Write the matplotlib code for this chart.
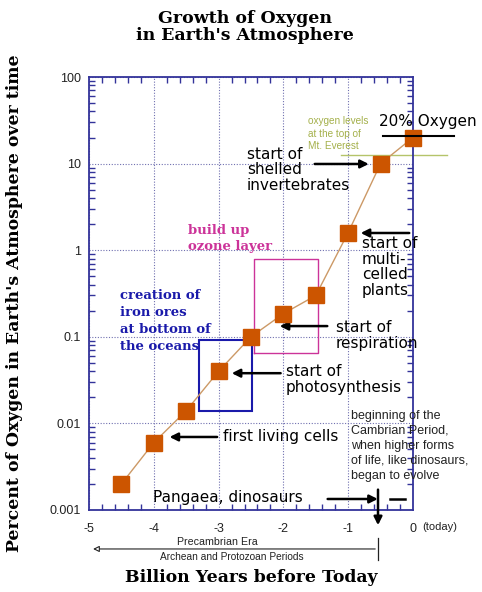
import numpy as np
import matplotlib
matplotlib.use("Agg")
import matplotlib.pyplot as plt
from matplotlib.ticker import FixedLocator, NullFormatter, LogLocator

# data: billion years before today vs percent oxygen
years = [-4.5, -4.0, -3.5, -3.0, -2.5, -2.0, -1.5, -1.0, -0.5, 0.0]
oxygen = [0.002, 0.006, 0.014, 0.04, 0.1, 0.185, 0.3, 1.6, 10, 20]

x_ticks = [-5, -4, -3, -2, -1, 0]
x_tick_labels = ["-5", "-4", "-3", "-2", "-1", "0"]
y_ticks = [0.001, 0.01, 0.1, 1, 10, 100]
y_tick_labels = ["0.001", "0.01", "0.1", "1", "10", "100"]

everest_level = 12.6
cambrian = -0.54

SERIF = "DejaVu Serif"
SANS = "DejaVu Sans"
NAVY = "#33339a"

fig = plt.figure(figsize=(4.82, 5.92), dpi=100)
ax = fig.add_axes([89 / 482, 1 - 510 / 592, 324 / 482, 433 / 592])
ax.set_yscale("log")
ax.set_xlim(-5, 0)
ax.set_ylim(0.001, 100)

# grid and axes styling
ax.set_xticks(x_ticks)
ax.set_xticklabels(x_tick_labels)
ax.set_yticks(y_ticks)
ax.set_yticklabels(y_tick_labels)
ax.xaxis.set_minor_locator(FixedLocator(np.arange(-5, 0.01, 0.2)))
ax.yaxis.set_minor_locator(LogLocator(base=10, subs=range(2, 10)))
ax.yaxis.set_minor_formatter(NullFormatter())
ax.grid(True, which="major", linestyle=(0, (1, 1.5)), color="#7070b0", linewidth=0.8)
ax.tick_params(which="both", direction="in", top=True, right=True, color=NAVY,
               labelsize=9, labelcolor="#222222")
ax.tick_params(which="major", length=0, width=1)
ax.tick_params(which="minor", length=4, width=1)
ax.tick_params(axis="x", pad=9)
ax.tick_params(axis="y", pad=6)
for s in ax.spines.values():
    s.set_color(NAVY)
    s.set_linewidth(1.3)
for lab in ax.get_xticklabels() + ax.get_yticklabels():
    lab.set_family("Liberation Sans")

# series
ax.plot(years, oxygen, color="#cc9966", linewidth=1, zorder=3)
ax.plot(years, oxygen, linestyle="none", marker="s", markersize=11.5,
        markerfacecolor="#cc5500", markeredgecolor="#cc5500", zorder=4, clip_on=False)

# boxes
ax.add_patch(plt.Rectangle((-3.31, 0.014), 0.83, 0.092 - 0.014, fill=False,
                           edgecolor="#1a1aaa", linewidth=1.5, zorder=2))
ax.plot([-2.46, -1.46, -1.46, -2.46, -2.46], [0.065, 0.065, 0.8, 0.8, 0.065],
        color="#cc3399", linewidth=1, zorder=2)

# Everest and 20% lines
ax.plot([-1.11, 0.52], [everest_level, everest_level], color="#b5c46a",
        linewidth=1, clip_on=False, zorder=2)
ax.plot([-0.46, 0.64], [21, 21], color="black", linewidth=1.5, clip_on=False, zorder=5)

txt = dict(family=SANS, fontsize=11, va="top", ha="left", linespacing=1.05, color="black")
ax.text(-2.56, 15.6, "start of\nshelled\ninvertebrates", **txt)
ax.text(-0.79, 1.46, "start of\nmulti-\ncelled\nplants", **txt)
ax.text(-1.19, 0.156, "start of\nrespiration", **txt)
ax.text(-1.96, 0.0485, "start of\nphotosynthesis", **txt)
ax.text(-2.93, 0.00697, "first living cells", family=SANS, fontsize=11, va="center")
ax.text(-4.02, 0.00141, "Pangaea, dinosaurs", family=SANS, fontsize=11, va="center")
ax.text(-0.52, 31, "20% Oxygen", family=SANS, fontsize=11, va="center", clip_on=False)
ax.text(-1.62, 35, "oxygen levels\nat the top of\nMt. Everest", family="Liberation Sans",
        fontsize=7.2, va="top", color="#a4b04a", linespacing=1.3)
ax.text(-0.96, 0.0143, "beginning of the\nCambrian Period,\nwhen higher forms\nof life, like dinosaurs,\nbegan to evolve",
        family="Liberation Sans", fontsize=9, va="top", linespacing=1.33, color="#222222",
        clip_on=False)
ax.text(-3.47, 2.0, "build up\nozone layer", family=SERIF, fontweight="bold", fontsize=9.5,
        va="top", color="#cc3399", linespacing=1.33)
ax.text(-4.52, 0.36, "creation of\niron ores\nat bottom of\nthe oceans", family=SERIF,
        fontweight="bold", fontsize=9.5, va="top", color="#1a1aaa", linespacing=1.4)

# arrows
arrow = dict(arrowstyle="-|>", color="black", lw=1.8, mutation_scale=12)
arrows = [
    ((-1.56, 9.9), (-0.64, 9.9)),
    ((-0.015, 1.58), (-0.85, 1.58)),
    ((-1.28, 0.133), (-2.1, 0.133)),
    ((-2.0, 0.038), (-2.84, 0.038)),
    ((-2.98, 0.00697), (-3.8, 0.00697)),
    ((-1.36, 0.00134), (-0.5, 0.00134)),
]
for start, end in arrows:
    ax.annotate("", xy=end, xytext=start, arrowprops=arrow, annotation_clip=False)
ax.plot([-0.36, -0.12], [0.00134, 0.00134], color="black", linewidth=1.8, zorder=5)
ax.annotate("", xy=(cambrian, 0.00062), xytext=(cambrian, 0.00185), arrowprops=arrow,
            annotation_clip=False)

# precambrian span below the axis
tr = ax.get_xaxis_transform()
ax.annotate("", xy=(-4.98, -0.090), xytext=(cambrian, -0.090), xycoords=tr, textcoords=tr,
            arrowprops=dict(arrowstyle="-|>", color="#222222", lw=0.8, fc="white",
                            mutation_scale=9), annotation_clip=False)
ax.plot([cambrian, cambrian], [-0.065, -0.116], transform=tr, color="#222222",
        linewidth=0.9, clip_on=False)
ax.text(-3.02, -0.074, "Precambrian Era", transform=tr, family="Liberation Sans",
        fontsize=7.7, ha="center", va="center", color="#222222")
ax.text(-2.79, -0.1085, "Archean and Protozoan Periods", transform=tr, family="Liberation Sans",
        fontsize=7.3, ha="center", va="center", color="#222222")
ax.text(0.15, -0.039, "(today)", transform=tr, family="Liberation Sans", fontsize=8,
        ha="left", va="center", color="#222222")

fig.text(245 / 482, 1 - 27 / 592, "Growth of Oxygen\nin Earth's Atmosphere", family=SERIF,
         fontweight="bold", fontsize=12.5, ha="center", va="center", linespacing=1.0)
fig.text(251 / 482, 1 - 578 / 592, "Billion Years before Today", family=SERIF,
         fontweight="bold", fontsize=12.4, ha="center", va="center")
fig.text(15 / 482, 1 - 303 / 592, "Percent of Oxygen in Earth's Atmosphere over time",
         family=SERIF, fontweight="bold", fontsize=12.4, ha="center", va="center",
         rotation=90)

fig.savefig("out.png", dpi=100)
